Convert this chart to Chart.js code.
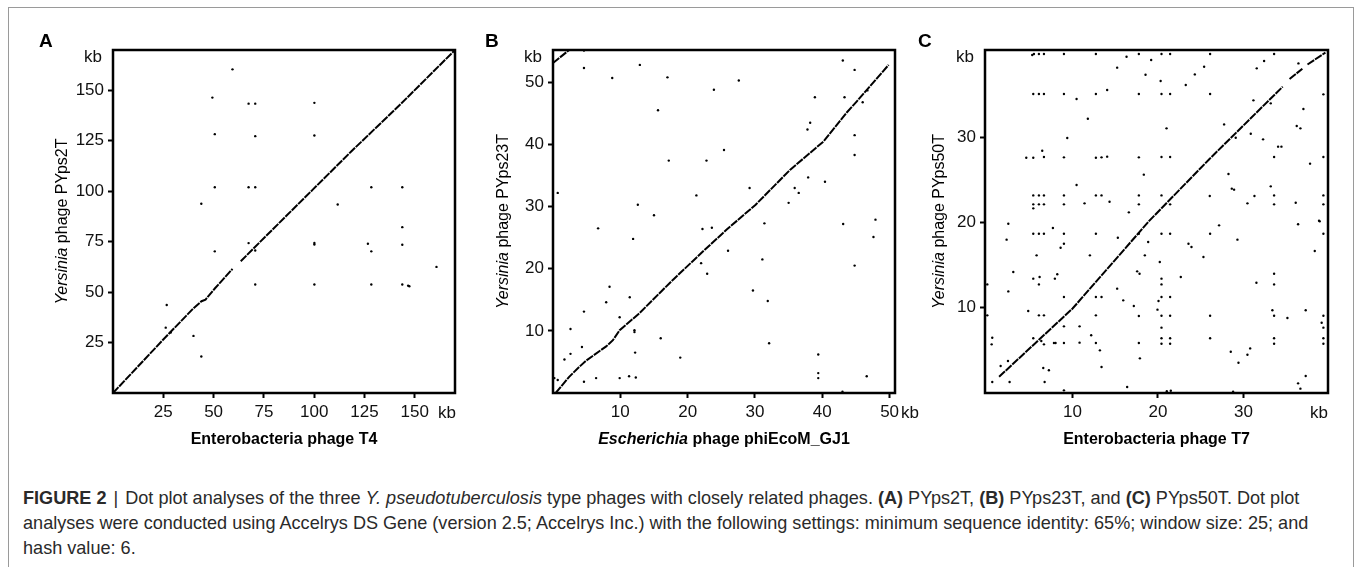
<!DOCTYPE html>
<html>
<head>
<meta charset="utf-8">
<title>Dot plots</title>
<script src="https://cdn.jsdelivr.net/npm/chart.js@4.4.0/dist/chart.umd.min.js"></script>
<style>
    html, body { margin: 0; padding: 0; background: #fff; }
    body {
        width: 1356px; height: 567px; position: relative; overflow: hidden;
        font-family: "Liberation Sans", Arial, Helvetica, sans-serif;
    }
    .frame {
        position: absolute; left: 8px; top: 7px; width: 1344px; height: 620px;
        border: 1px solid #9a9a9a; border-bottom: none;
    }
    canvas { position: absolute; top: 0; }
    #caption {
        position: absolute; left: 23px; top: 486px;
        font-size: 18.1px; line-height: 25px; color: #2a2a2a; white-space: nowrap;
    }
    #caption .bar { padding: 0 2px; }
</style>
</head>
<body>
<div class="frame"></div>
<canvas id="plotA" width="480" height="460" style="left:0px"></canvas>
<canvas id="plotB" width="470" height="460" style="left:460px"></canvas>
<canvas id="plotC" width="456" height="460" style="left:900px"></canvas>
<div id="caption"><b>FIGURE 2</b> <span class="bar">|</span> Dot plot analyses of the three <i>Y. pseudotuberculosis</i> type phages with closely related phages. <b>(A)</b> PYps2T, <b>(B)</b> PYps23T, and <b>(C)</b> PYps50T. Dot plot<br>analyses were conducted using Accelrys DS Gene (version 2.5; Accelrys Inc.) with the following settings: minimum sequence identity: 65%; window size: 25; and<br>hash value: 6.</div>

<script>
const FONT = '"Liberation Sans", Arial, Helvetica, sans-serif';

// Tick values (kb)
const ticksA = [25, 50, 75, 100, 125, 150];
const ticksB = [10, 20, 30, 40, 50];
const ticksC = [10, 20, 30];

// Panel A: T4 (x) vs PYps2T (y), kb
const dotsA = [
    [59.4, 160.4], [49.4, 146.4], [67.4, 143.4], [70.7, 143.4], [100.1, 143.8],
    [50.6, 128.3], [70.7, 127.3], [100.1, 127.6], [50.6, 102], [67.4, 102],
    [70.7, 102], [128.4, 102], [143.8, 102], [43.9, 93.8], [111.7, 93.4],
    [143.8, 82.2], [67.4, 74.3], [100.1, 74.4], [100.1, 73.6], [126.7, 74],
    [128.4, 70.2], [143.8, 73.5], [50.6, 70.2], [70.7, 70.6], [160.8, 62.5],
    [70.7, 53.8], [100.1, 53.8], [128.4, 53.8], [143.8, 53.8], [146.7, 53.2],
    [147.3, 52.9], [26.7, 43.6], [40, 28.3], [43.9, 18.1], [26.2, 32.4], [28.7, 30]
];
const lineA = [
    [[0, 0], [25, 26.5], [40, 42], [44, 45.5], [46, 46.3], [50.6, 51.8], [59.4, 61.5]],
    [[63.5, 65.3], [70.2, 72], [99.3, 100.8], [118.4, 119.7], [143.4, 143.6], [169.5, 169.5]]
];

// Panel B: phiEcoM_GJ1 (x) vs PYps23T (y), kb
const dotsB = [
    [4.6, 55.1], [4.6, 52.3], [12.9, 52.8], [8.8, 50.7], [17, 50.8], [27.6, 50.3],
    [23.9, 48.8], [43.05, 53.5], [44.8, 52], [46.7, 48.7], [46, 46.8], [38.9, 47.6],
    [43.3, 47.6], [15.6, 45.5], [38.2, 43.5], [37.8, 42.4], [44.8, 41.5], [25.4, 39.1],
    [17.2, 37.4], [22.8, 37.4], [44.8, 38.3], [37.9, 34.7], [40.4, 34], [0.7, 32.2],
    [29.2, 33], [35.9, 33], [36.5, 32.2], [21.3, 31.8], [35, 30.6], [12.6, 30.3],
    [15, 28.6], [6.7, 26.5], [22.2, 26.4], [23.6, 26.6], [31.4, 27.3], [43.1, 27.2],
    [47.9, 27.9], [47.6, 25.1], [11.9, 24.8], [26, 22.9], [31.1, 21.5], [22, 20.9],
    [44.8, 20.5], [22.9, 19.2], [8.4, 17.1], [29.7, 16.5], [11.4, 15.4], [7.9, 14.6],
    [31.9, 14.8], [9.9, 12.2], [4.6, 13.1], [2.6, 10.3], [12.1, 10.1], [12.1, 9.8],
    [16, 8.8], [32.1, 8], [4.3, 7.4], [2.6, 6.3], [12.2, 6.5], [39.4, 6.2],
    [1.7, 5.4], [18.9, 5.7], [0.2, 2.4], [0.7, 2.1], [4.6, 1.8], [6.4, 2.4],
    [9.9, 2.4], [11.3, 2.7], [12.3, 2.5], [39.4, 3.2], [39.4, 2.4], [46.6, 2.7], [43, 0.2]
];
const lineB = [
    [[0.4, 0], [2.4, 2.6], [3.9, 4.2], [4.9, 5.2], [7.9, 7.5], [8.9, 8.5], [9.9, 10.1],
     [12.8, 12.8], [17.8, 18.2], [22.3, 22.8], [25.8, 26.3], [30.1, 30.3], [35.2, 35.9],
     [40.2, 40.5], [43.6, 45.1], [45.1, 46.9], [49.85, 52.8]],
    [[0, 53.1], [2.4, 55.2]]
];

// Panel C: T7 (x) vs PYps50T (y), kb
const dotsC = [
    // upper left
    [5.28, 39.61], [5.48, 39.73], [6.06, 39.73], [6.65, 39.73], [8.99, 39.73], [12.73, 39.73],
    [17.76, 39.73], [16.32, 39.41], [19.2, 39.02], [15.22, 38.13], [18.54, 37.3],
    [5.4, 35.04], [6.06, 35.04], [6.65, 35.04], [8.99, 35.04], [12.73, 35.04], [17.76, 35.04],
    [14.05, 35.51], [10.47, 34.45], [11.79, 32.15], [9.38, 29.88], [6.45, 28.4],
    [4.58, 27.58], [5.4, 27.58], [6.65, 27.66], [8.99, 27.62], [12.73, 27.58], [13.39, 27.62],
    [14.05, 27.7], [17.76, 27.62], [18.34, 25.59], [10.47, 24.38],
    [5.4, 23.16], [6.06, 23.16], [6.65, 23.16], [8.99, 23.16], [12.73, 23.16], [13.39, 23.16],
    [17.76, 23.16], [5.4, 22.11], [6.06, 22.11], [6.65, 22.11], [8.99, 22.11], [11.4, 22.23],
    [14.33, 22.42], [17.76, 22.11], [5.4, 21.64], [16.59, 21.17],
    // upper right
    [20.41, 39.73], [21.42, 39.73], [26.1, 39.73], [33.59, 39.73], [32.42, 38.91], [25.4, 38.24],
    [36.44, 38.63], [31.56, 38.05], [24.31, 37.34], [20.31, 36.56], [23.25, 36.09],
    [20.41, 35.04], [21.42, 35.04], [26.1, 35.04], [39.36, 35], [31.17, 34.3], [33.2, 33.95],
    [37.02, 33.28], [21, 31.02], [27.74, 31.48], [36.24, 31.29], [36.67, 31.02], [30.86, 30.39],
    [29.1, 29.92], [32.3, 29.73], [34.06, 28.87], [34.45, 28.87],
    [20.41, 27.66], [21.42, 27.66], [33.59, 27.66], [39.36, 27.66], [37.8, 26.88], [28.25, 25.66],
    [28.64, 23.95], [28.91, 23.83], [33.2, 24.22],
    [20.41, 23.16], [26.06, 23.09], [31.29, 23.09], [33.59, 23.16], [39.36, 23.16], [21.42, 22.11],
    [30.47, 22.23], [33.59, 22.11], [36.12, 22.3], [39.36, 22.11], [38.85, 20.2],
    // lower left
    [2.48, 19.84], [5.4, 18.67], [6.06, 18.67], [6.65, 18.67], [7.7, 19.34], [8.99, 18.67],
    [12.73, 18.67], [15.3, 18.2], [17.76, 18.67], [2.28, 17.97], [8.99, 17.5], [8.6, 17.03],
    [18.85, 17.7], [5.79, 16.13], [12.03, 16.13], [18.46, 16.13],
    [3.06, 14.18], [5.4, 13.4], [6.14, 13.59], [6.06, 12.73], [8.21, 13.91], [7.93, 13.4],
    [17.56, 14.26], [17.84, 13.98], [0.02, 12.73], [2.48, 11.91], [15.22, 12.23],
    [8.99, 11.25], [12.73, 11.25], [13.39, 11.25], [15.93, 10.86], [17.17, 10.2], [4.81, 9.61],
    [6.06, 9.1], [6.65, 9.1], [12.73, 9.1], [17.76, 9.02], [0.02, 9.1],
    [8.99, 7.81], [10.82, 7.81], [12.18, 6.76], [0.6, 6.48], [5.4, 6.41], [0.53, 5.7],
    [6.34, 6.09], [6.65, 5.7], [7.82, 5.86], [8.01, 5.86], [8.99, 5.86], [10.82, 5.9],
    [12.73, 5.86], [13.2, 5], [17.76, 5.86], [17.88, 4.06],
    [1.58, 3.16], [2.44, 3.75], [6.57, 2.93], [7.23, 2.66], [13.39, 3.05], [0.6, 1.29],
    [2.63, 1.29], [6.73, 1.29], [16.39, 0.7], [8.99, 0.31],
    // lower right
    [27.15, 19.65], [36.4, 19.77], [38.93, 20.12], [20.41, 18.67], [21.42, 18.67], [26.1, 18.67],
    [39.36, 18.67], [29.3, 17.97], [23.57, 17.5], [23.92, 17.11], [38.35, 16.64], [25.32, 15.94],
    [20.21, 15.35], [20.41, 13.4], [22.67, 13.59], [33.59, 13.98], [20.41, 12.73], [31.52, 12.93],
    [33.59, 12.73], [20.41, 11.25], [21.42, 11.25], [20.06, 10.78], [19.94, 9.77],
    [20.41, 9.06], [21.42, 9.06], [26.1, 9.06], [33.39, 9.69], [33.59, 9.06], [37.29, 9.69],
    [35.15, 8.79], [39.36, 9.06], [39.16, 8.24], [20.41, 7.66], [39.36, 7.66],
    [20.41, 6.41], [21.42, 6.41], [26.1, 6.41], [33.59, 6.41], [39.36, 6.41], [20.41, 5.78],
    [21.42, 5.78], [33.59, 5.78], [39.36, 5.78], [30.79, 5.23], [28.52, 4.84], [30.47, 4.49],
    [29.42, 3.55], [37.29, 1.99], [36.4, 1.13], [36.67, 0.51], [21.03, 0.2], [21.5, 0.27], [28.79, 0.16]
];
const lineC = [
    [[1.4, 1.9], [10, 9.9], [19, 20.2], [26, 27.4], [34.6, 35.9]],
    [[35.4, 36.8], [36.9, 38]],
    [[37.5, 38.5], [39.6, 39.9]]
];

/**
 * Draw a title made of parts with different font styles, centred on (cx, cy)
 */
function drawRichText(ctx, parts, cx, cy, angle) {
    ctx.save();
    ctx.translate(cx, cy);
    ctx.rotate(angle);
    ctx.textAlign = 'left';
    ctx.textBaseline = 'middle';
    const fonts = parts.map(p => `${p.style} 16px ${FONT}`);
    const widths = parts.map((p, i) => {
        ctx.font = fonts[i];
        return ctx.measureText(p.text).width;
    });
    let x = -widths.reduce((a, b) => a + b, 0) / 2;
    parts.forEach((p, i) => {
        ctx.font = fonts[i];
        ctx.fillText(p.text, x, 0);
        x += widths[i];
    });
    ctx.restore();
}

// Frame, panel letter, "kb" labels and axis titles
const dotPlotDecor = {
    id: 'dotPlotDecor',
    afterDraw(chart, args, opts) {
        const { ctx, chartArea: a } = chart;
        ctx.save();
        ctx.strokeStyle = '#000';
        ctx.lineWidth = 2.5;
        ctx.strokeRect(a.left, a.top, a.right - a.left, a.bottom - a.top);

        ctx.fillStyle = '#000';
        ctx.font = `bold 19px ${FONT}`;
        ctx.textAlign = 'left';
        ctx.textBaseline = 'alphabetic';
        ctx.fillText(opts.letter, a.left + opts.letterDx, a.top - 3);

        ctx.fillStyle = '#111';
        ctx.font = `17px ${FONT}`;
        ctx.textAlign = 'right';
        ctx.textBaseline = 'middle';
        ctx.fillText('kb', a.left - 11, a.top + 7);
        ctx.textAlign = 'center';
        ctx.fillText('kb', a.right + opts.kbDx, a.bottom + 20);

        ctx.fillStyle = '#000';
        drawRichText(ctx, opts.xTitle, (a.left + a.right) / 2, a.bottom + 47, 0);
        drawRichText(ctx, opts.yTitle, a.left + opts.yTitleDx, (a.top + a.bottom) / 2, -Math.PI / 2);
        ctx.restore();
    }
};

function makeAxis(min, max, ticks, size, isY) {
    return {
        type: 'linear',
        min,
        max,
        afterBuildTicks: (scale) => { scale.ticks = ticks.map(v => ({ value: v })); },
        afterFit: (scale) => {
            if (isY) scale.width = size; else scale.height = size;
        },
        grid: {
            drawOnChartArea: false,
            drawTicks: true,
            tickLength: 5,
            tickWidth: 2,
            tickColor: '#000',
            color: '#000'
        },
        border: { display: false },
        ticks: {
            color: '#111',
            font: { family: FONT, size: 17 },
            padding: 4,
            maxRotation: 0,
            autoSkip: false,
            callback: (value) => String(value)
        }
    };
}

function makeDatasets(dots, segments) {
    const sets = [{
        data: dots.map(([x, y]) => ({ x, y })),
        pointRadius: 1.2,
        pointBackgroundColor: '#000',
        pointBorderWidth: 0,
        showLine: false
    }];
    segments.forEach(seg => {
        sets.push({
            data: seg.map(([x, y]) => ({ x, y })),
            showLine: true,
            pointRadius: 0,
            borderColor: '#000',
            borderWidth: 2,
            borderDash: [8, 1]
        });
    });
    return sets;
}

function makeDotPlot(canvasId, cfg) {
    const ctx = document.getElementById(canvasId).getContext('2d');
    return new Chart(ctx, {
        type: 'scatter',
        data: { datasets: makeDatasets(cfg.dots, cfg.line) },
        options: {
            responsive: false,
            animation: false,
            devicePixelRatio: 1,
            events: [],
            layout: { padding: { left: 0, top: 50, right: cfg.padRight, bottom: 27 } },
            scales: {
                x: makeAxis(cfg.xRange[0], cfg.xRange[1], cfg.xTicks, 40, false),
                y: makeAxis(cfg.yRange[0], cfg.yRange[1], cfg.yTicks, cfg.yAxisWidth, true)
            },
            plugins: {
                legend: { display: false },
                tooltip: { enabled: false },
                dotPlotDecor: cfg.decor
            }
        },
        plugins: [dotPlotDecor]
    });
}

makeDotPlot('plotA', {
    dots: dotsA, line: lineA,
    xRange: [0, 170], yRange: [0, 170], xTicks: ticksA, yTicks: ticksA,
    yAxisWidth: 113, padRight: 25,
    decor: {
        letter: 'A', letterDx: -74, kbDx: -8, yTitleDx: -50,
        xTitle: [{ text: 'Enterobacteria phage T4', style: 'bold' }],
        yTitle: [{ text: 'Yersinia', style: 'italic' }, { text: ' phage PYps2T', style: 'normal' }]
    }
});

makeDotPlot('plotB', {
    dots: dotsB, line: lineB,
    xRange: [0, 50.8], yRange: [0, 55.2], xTicks: ticksB, yTicks: ticksB,
    yAxisWidth: 93, padRight: 35,
    decor: {
        letter: 'B', letterDx: -68, kbDx: 15, yTitleDx: -49,
        xTitle: [{ text: 'Escherichia', style: 'italic bold' }, { text: ' phage phiEcoM_GJ1', style: 'bold' }],
        yTitle: [{ text: 'Yersinia', style: 'italic' }, { text: ' phage PYps23T', style: 'normal' }]
    }
});

makeDotPlot('plotC', {
    dots: dotsC, line: lineC,
    xRange: [-0.25, 39.9], yRange: [0, 40.2], xTicks: ticksC, yTicks: ticksC,
    yAxisWidth: 85, padRight: 28,
    decor: {
        letter: 'C', letterDx: -67, kbDx: -9, yTitleDx: -45.5,
        xTitle: [{ text: 'Enterobacteria phage T7', style: 'bold' }],
        yTitle: [{ text: 'Yersinia', style: 'italic' }, { text: ' phage PYps50T', style: 'normal' }]
    }
});
</script>
</body>
</html>
